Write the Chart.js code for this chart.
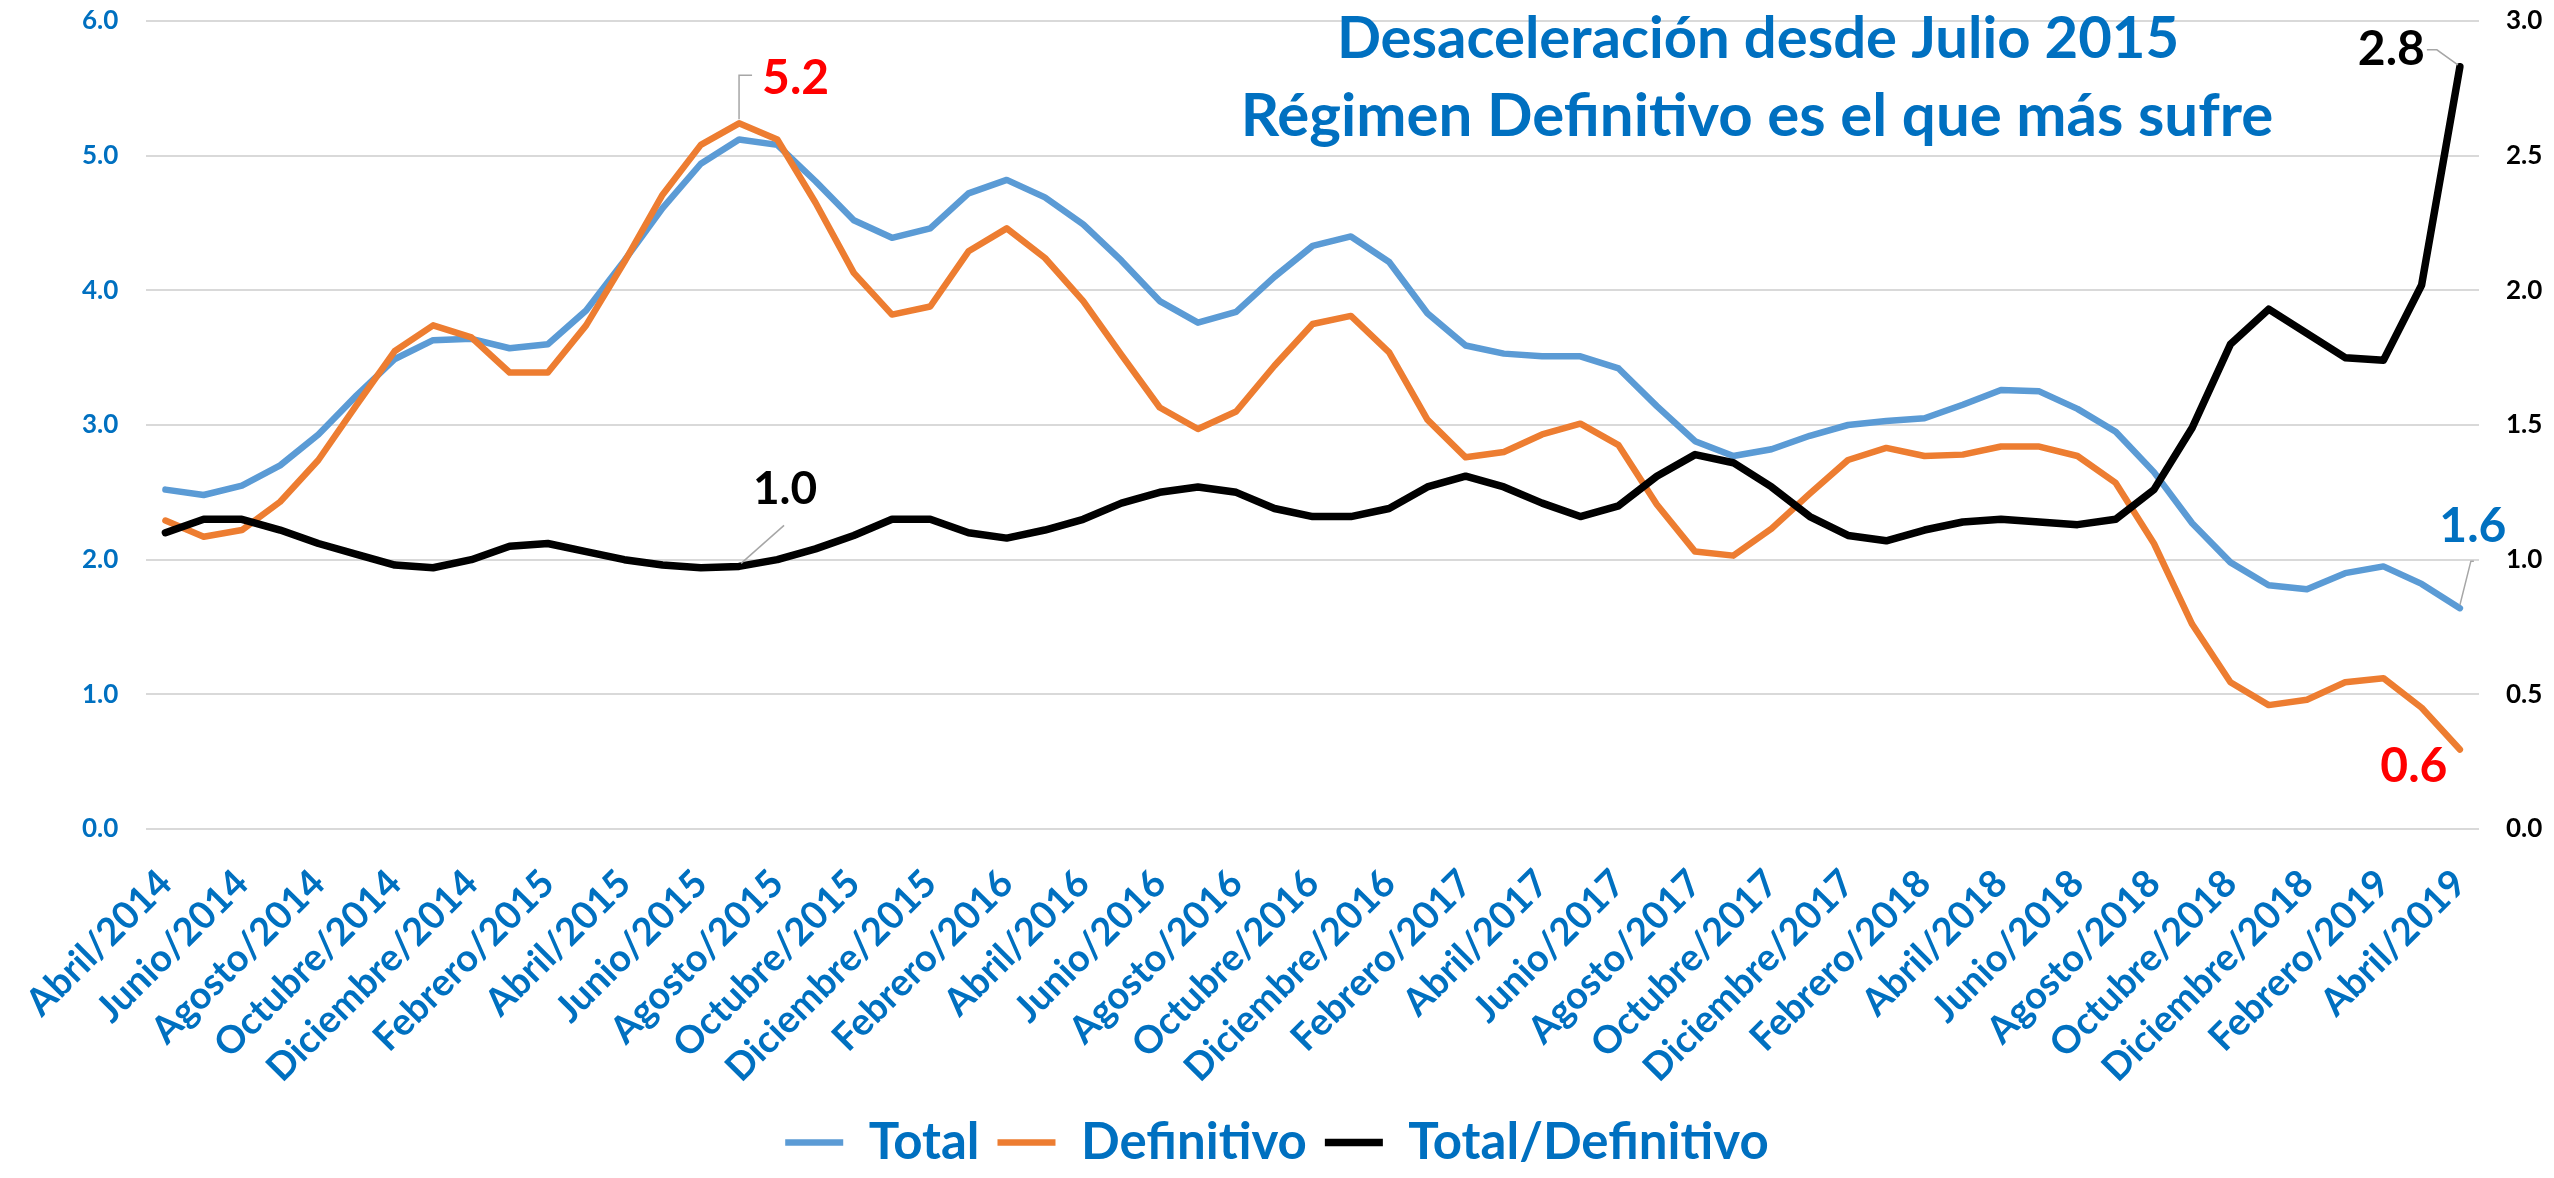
<!DOCTYPE html>
<html>
<head>
<meta charset="utf-8">
<script src="https://cdn.jsdelivr.net/npm/chart.js@4.4.1/dist/chart.umd.min.js"></script>
<style>
  html, body { margin: 0; padding: 0; background: #fff; }
  #chart { display: block; }
</style>
</head>
<body>
<canvas id="chart" width="2554" height="1178"></canvas>
<script>
const months = [
  "Abril/2014", "Mayo/2014", "Junio/2014", "Julio/2014", "Agosto/2014", "Septiembre/2014",
  "Octubre/2014", "Noviembre/2014", "Diciembre/2014", "Enero/2015", "Febrero/2015", "Marzo/2015",
  "Abril/2015", "Mayo/2015", "Junio/2015", "Julio/2015", "Agosto/2015", "Septiembre/2015",
  "Octubre/2015", "Noviembre/2015", "Diciembre/2015", "Enero/2016", "Febrero/2016", "Marzo/2016",
  "Abril/2016", "Mayo/2016", "Junio/2016", "Julio/2016", "Agosto/2016", "Septiembre/2016",
  "Octubre/2016", "Noviembre/2016", "Diciembre/2016", "Enero/2017", "Febrero/2017", "Marzo/2017",
  "Abril/2017", "Mayo/2017", "Junio/2017", "Julio/2017", "Agosto/2017", "Septiembre/2017",
  "Octubre/2017", "Noviembre/2017", "Diciembre/2017", "Enero/2018", "Febrero/2018", "Marzo/2018",
  "Abril/2018", "Mayo/2018", "Junio/2018", "Julio/2018", "Agosto/2018", "Septiembre/2018",
  "Octubre/2018", "Noviembre/2018", "Diciembre/2018", "Enero/2019", "Febrero/2019", "Marzo/2019",
  "Abril/2019"
];

// left axis
const total = [
  2.52, 2.48, 2.55, 2.70, 2.93, 3.22, 3.49, 3.63, 3.64, 3.57, 3.60, 3.85, 4.22, 4.61, 4.94, 5.12, 5.08, 4.81, 4.52, 4.39,
  4.46, 4.72, 4.82, 4.69, 4.49, 4.22, 3.92, 3.76, 3.84, 4.10, 4.33, 4.40, 4.21, 3.83, 3.59, 3.53, 3.51, 3.51, 3.42, 3.14,
  2.88, 2.77, 2.82, 2.92, 3.00, 3.03, 3.05, 3.15, 3.26, 3.25, 3.12, 2.95, 2.65, 2.27, 1.98, 1.81, 1.78, 1.90, 1.95, 1.82, 1.64
];
const definitivo = [
  2.29, 2.17, 2.22, 2.43, 2.74, 3.15, 3.55, 3.74, 3.65, 3.39, 3.39, 3.74, 4.21, 4.71, 5.08, 5.24, 5.12, 4.65, 4.13, 3.82,
  3.88, 4.29, 4.46, 4.24, 3.92, 3.52, 3.13, 2.97, 3.10, 3.44, 3.75, 3.81, 3.54, 3.04, 2.76, 2.80, 2.93, 3.01, 2.85, 2.41,
  2.06, 2.03, 2.23, 2.49, 2.74, 2.83, 2.77, 2.78, 2.84, 2.84, 2.77, 2.57, 2.12, 1.52, 1.09, 0.92, 0.96, 1.09, 1.12, 0.90, 0.59
];
// right axis
const ratio = [
  1.10, 1.15, 1.15, 1.11, 1.06, 1.02, 0.98, 0.97, 1.00, 1.05, 1.06, 1.03, 1.00, 0.98, 0.97, 0.975, 1.00, 1.04, 1.09, 1.15,
  1.15, 1.10, 1.08, 1.11, 1.15, 1.21, 1.25, 1.27, 1.25, 1.19, 1.16, 1.16, 1.19, 1.27, 1.31, 1.27, 1.21, 1.16, 1.20, 1.31,
  1.39, 1.36, 1.27, 1.16, 1.09, 1.07, 1.11, 1.14, 1.15, 1.14, 1.13, 1.15, 1.26, 1.49, 1.80, 1.93, 1.84, 1.75, 1.74, 2.02, 2.83
];

const leftTicks = [0, 1, 2, 3, 4, 5, 6];
const rightTicks = [0, 0.5, 1, 1.5, 2, 2.5, 3];
const titleLines = ["Desaceleración desde Julio 2015", "Régimen Definitivo es el que más sufre"];

const BLUE_TEXT = "#0070C0";
const FONT = "Lato";

// callouts: dataset index, point index, colour, text offset from point, leader path
const callouts = [
  { ds: 1, i: 15, color: "#FF0000", size: 48, dx: 23, dy: -45, align: "left", path: [[0, -4], [0, -48], [13, -48]] },
  { ds: 2, i: 15, color: "#000000", size: 46, dx: 46, dy: -77, align: "center", path: [[2, -3], [45, -41]] },
  { ds: 2, i: 60, color: "#000000", size: 48, dx: -35, dy: -17, align: "right", path: [[-2, -2], [-23, -17], [-33, -17]] },
  { ds: 0, i: 60, color: BLUE_TEXT, size: 48, dx: 13, dy: -82, align: "center", path: [[0, -3], [11, -47], [14, -47]] },
  { ds: 1, i: 60, color: "#FF0000", size: 48, dx: -46, dy: 17, align: "center", path: [] }
];

const extrasPlugin = {
  id: "extras",
  afterDatasetsDraw(chart) {
    const ctx = chart.ctx;
    ctx.save();
    // title inside the plot
    ctx.fillStyle = BLUE_TEXT;
    ctx.textAlign = "center";
    ctx.textBaseline = "alphabetic";
    ctx.font = "bold 58px " + FONT;
    ctx.fillText(titleLines[0], 1758, 58);
    ctx.font = "bold 60px " + FONT;
    ctx.fillText(titleLines[1], 1757, 136);

    // data labels with leader lines
    callouts.forEach(c => {
      const pt = chart.getDatasetMeta(c.ds).data[c.i];
      const v = chart.data.datasets[c.ds].data[c.i];
      if (c.path.length) {
        ctx.strokeStyle = "#A6A6A6";
        ctx.lineWidth = 1.5;
        ctx.beginPath();
        c.path.forEach((p, k) => {
          if (k === 0) ctx.moveTo(pt.x + p[0], pt.y + p[1]);
          else ctx.lineTo(pt.x + p[0], pt.y + p[1]);
        });
        ctx.stroke();
      }
      ctx.fillStyle = c.color;
      ctx.font = "bold " + c.size + "px " + FONT;
      ctx.textAlign = c.align;
      ctx.textBaseline = "middle";
      ctx.fillText(v.toFixed(1), pt.x + c.dx, pt.y + c.dy);
    });
    ctx.restore();
  }
};

const lineStyle = {
  fill: false,
  tension: 0,
  pointRadius: 0,
  pointHoverRadius: 0,
  borderJoinStyle: "round",
  borderCapStyle: "round"
};

// fix the y axes width and drop their label padding so the plot spans 21..829
const fitY = w => s => {
  s.width = w;
  s.paddingTop = 0;
  s.paddingBottom = 0;
};

new Chart(document.getElementById("chart"), {
  type: "line",
  data: {
    labels: months,
    datasets: [
      { ...lineStyle, label: "Total", data: total, borderColor: "#5B9BD5", backgroundColor: "#5B9BD5", borderWidth: 6.5, yAxisID: "y", order: 3 },
      { ...lineStyle, label: "Definitivo", data: definitivo, borderColor: "#ED7D31", backgroundColor: "#ED7D31", borderWidth: 6.5, yAxisID: "y", order: 2 },
      { ...lineStyle, label: "Total/Definitivo", data: ratio, borderColor: "#000000", backgroundColor: "#000000", borderWidth: 7.5, yAxisID: "y1", order: 1 }
    ]
  },
  options: {
    responsive: false,
    animation: false,
    layout: { padding: { top: 21, left: 0, right: 0, bottom: 0 } },
    plugins: {
      title: { display: false },
      tooltip: { enabled: false },
      legend: {
        position: "bottom",
        labels: {
          usePointStyle: true,
          pointStyle: "line",
          pointStyleWidth: 58,
          boxHeight: 51,
          padding: 18,
          color: BLUE_TEXT,
          font: { family: FONT, size: 51, weight: "bold" },
          sort: (a, b) => a.datasetIndex - b.datasetIndex
        }
      }
    },
    scales: {
      x: {
        offset: true,
        grid: { display: false, drawTicks: false },
        border: { display: false },
        ticks: {
          autoSkip: false,
          minRotation: 45,
          maxRotation: 45,
          padding: 32,
          color: BLUE_TEXT,
          font: { family: FONT, size: 38, weight: "bold" },
          callback: (v, i) => (i % 2 === 0 ? months[i] : "")
        },
        afterFit: s => { s.height = 270; }
      },
      y: {
        position: "left",
        min: 0,
        max: 6,
        afterBuildTicks: s => { s.ticks = leftTicks.map(v => ({ value: v })); },
        grid: { color: "#D9D9D9", lineWidth: 2, drawTicks: false },
        border: { display: false },
        ticks: {
          padding: 28,
          color: BLUE_TEXT,
          font: { family: FONT, size: 26, weight: "bold" },
          callback: v => v.toFixed(1)
        },
        afterFit: fitY(143)
      },
      y1: {
        position: "right",
        min: 0,
        max: 3,
        afterBuildTicks: s => { s.ticks = rightTicks.map(v => ({ value: v })); },
        grid: { drawOnChartArea: false, drawTicks: false },
        border: { display: false },
        ticks: {
          padding: 27,
          color: "#000000",
          font: { family: FONT, size: 26, weight: "bold" },
          callback: v => v.toFixed(1)
        },
        afterFit: fitY(75)
      }
    }
  },
  plugins: [extrasPlugin]
});
</script>
</body>
</html>
